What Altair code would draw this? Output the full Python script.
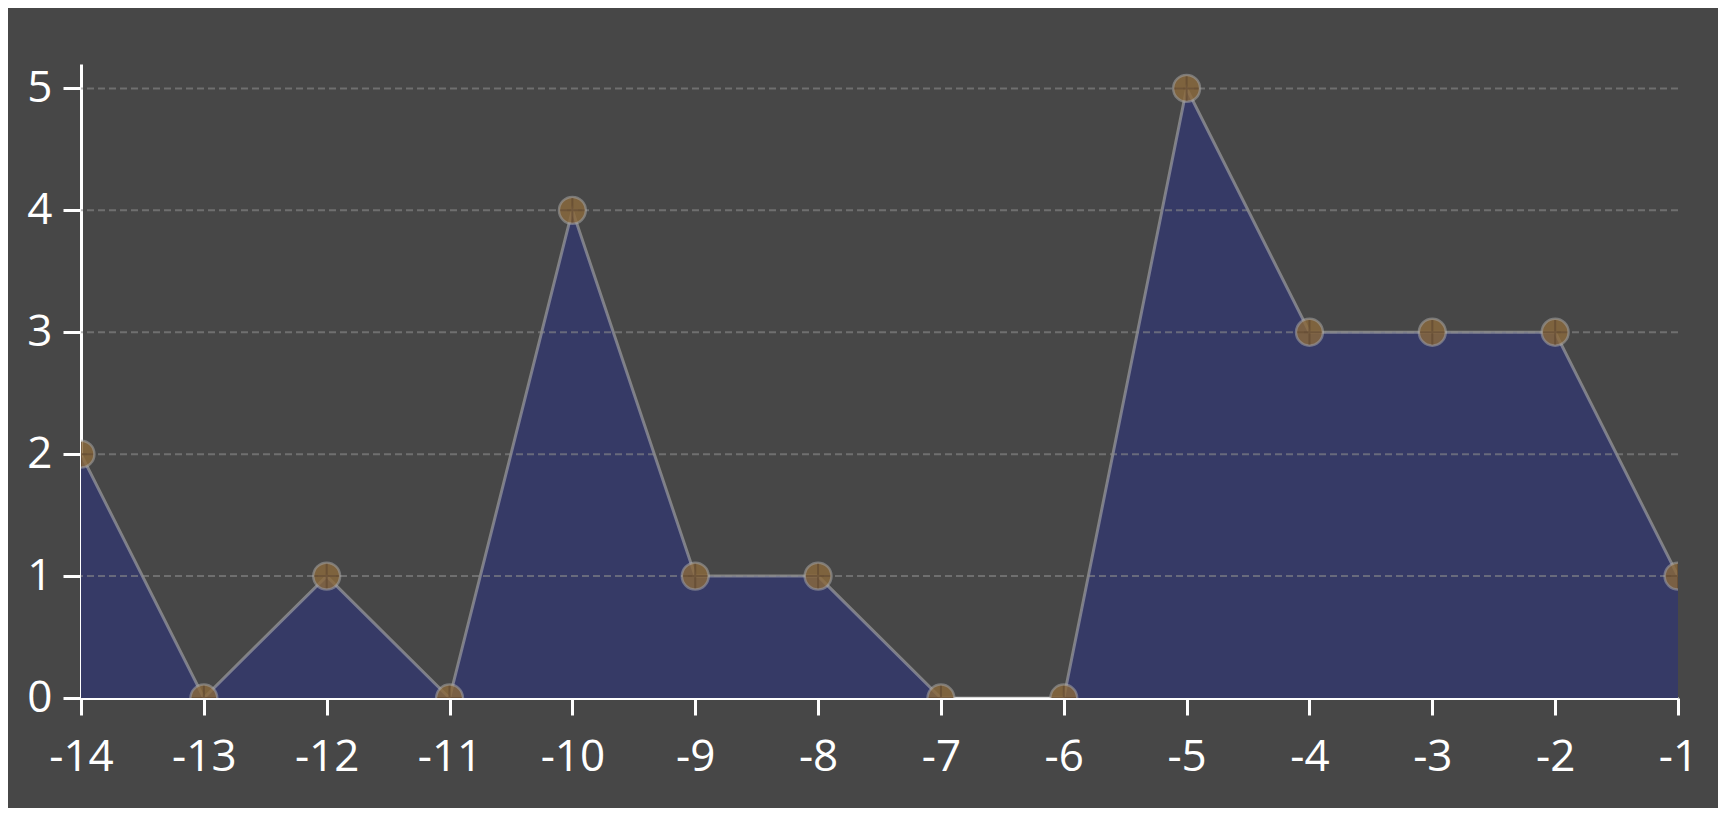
import altair as alt
import pandas as pd

x_vals = [-14, -13, -12, -11, -10, -9, -8, -7, -6, -5, -4, -3, -2, -1]
y_vals = [2, 0, 1, 0, 4, 1, 1, 0, 0, 5, 3, 3, 3, 1]
y_ticks = [0, 1, 2, 3, 4, 5]
grid_vals = [1, 2, 3, 4, 5]

df = pd.DataFrame({"x": x_vals, "y": y_vals})
gdf = pd.DataFrame({"g": grid_vals})

xs = alt.Scale(domain=[-14, -1], nice=False, zero=False)
ys = alt.Scale(domain=[0, 5.2], nice=False)

xaxis = alt.Axis(values=x_vals, labelExpr="'' + datum.value", title=None, grid=False,
                 labelFlush=False, labelOverlap=False, labelBound=False,
                 tickSize=17, labelPadding=20)
yaxis = alt.Axis(values=y_ticks, labelExpr="'' + datum.value", title=None, grid=False,
                 labelFlush=False, labelOverlap=False, labelBound=False,
                 tickSize=18, labelPadding=11, labelBaseline="middle")

base = alt.Chart(df)

area = base.mark_area(color="#363a66", opacity=1, clip=True).encode(
    x=alt.X("x:Q", scale=xs, axis=xaxis),
    y=alt.Y("y:Q", scale=ys, axis=yaxis),
)

line = base.mark_line(color="#b4b4b4", opacity=0.55, strokeWidth=3, clip=True).encode(
    x=alt.X("x:Q", scale=xs),
    y=alt.Y("y:Q", scale=ys),
)

grid = alt.Chart(gdf).mark_rule(color="#8a8a8a", opacity=0.6, strokeWidth=2,
                                strokeDash=[7, 4]).encode(
    y=alt.Y("g:Q", scale=ys),
)

pts = base.mark_point(filled=True, fill="#8c6a3c", opacity=0.8, size=720,
                      stroke="#b0b0b0", strokeOpacity=0.6, strokeWidth=2.5,
                      clip=True).encode(
    x=alt.X("x:Q", scale=xs),
    y=alt.Y("y:Q", scale=ys),
)

cross = base.mark_point(shape="M-1,0H1M0,-1V1", filled=False, size=600,
                        stroke="#5e4630", strokeWidth=2, opacity=0.6,
                        clip=True).encode(
    x=alt.X("x:Q", scale=xs),
    y=alt.Y("y:Q", scale=ys),
)

chart = alt.layer(area, line, grid, pts, cross).properties(
    width=1597,
    height=634,
    autosize=alt.AutoSizeParams(type="none"),
    padding={"left": 73, "top": 56, "right": 40, "bottom": 110},
    background="#474747",
).configure_view(stroke=None).configure_axis(
    domainColor="#ffffff", domainWidth=3,
    tickColor="#ffffff", tickWidth=3,
    labelColor="#ffffff", labelFont="Open Sans", labelFontSize=44,
)

chart.save("out.html", embed_options={"renderer": "svg", "actions": False})
